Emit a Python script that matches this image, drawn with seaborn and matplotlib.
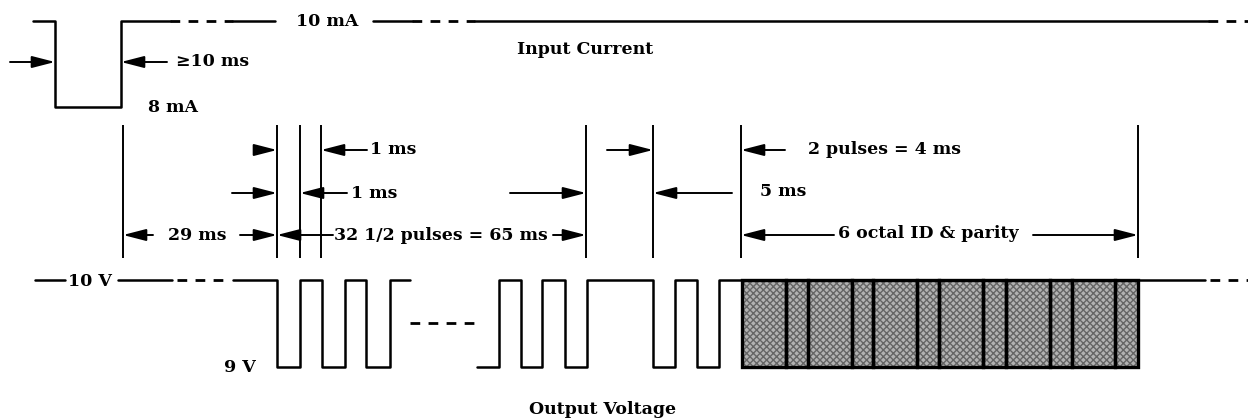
import matplotlib
matplotlib.use("Agg")
import matplotlib.pyplot as plt
import seaborn as sns
import numpy as np
import pandas as pd

# --- drawing space is the page itself (x right, y down), 1248 x 420 ---
W, H = 1248, 420

# input current levels (page y) and edges
cur_hi, cur_lo = 21, 107
cur_start, cur_edges, cur_end = 33, [55, 121], 170
cur_dash = [(170, 233), (412, 475), (1208, 1248)]
cur_solid = [(233, 275), (373, 412), (475, 1208)]

# output voltage levels and pulse edges
volt_hi, volt_lo, volt_mid = 280, 367, 323
burst1_start, burst1_edges, burst1_end = 233, [277, 300, 322, 345, 366, 390], 410
burst2_start, burst2_edges, burst2_end = 477, [499, 521, 542, 565, 587, 653, 675, 697, 719], 742
volt_solid = [(35, 65), (118, 172), (1138, 1205)]
volt_dash = [(177, 228), (1210, 1248)]
gap_dash = (410, 478)

# ID & parity cells (6 octal digits, wide + narrow)
cell_edges = [742, 786, 808, 852, 873, 917, 939, 983, 1006, 1050, 1072, 1115, 1138]

# timing markers
marker_x = [123, 277, 300, 321, 586, 653, 741, 1138]
marker_top, marker_bot = 125, 258

# dimension arrows: (row y, tail x, head x)
arrows = [
    (62, 10, 55), (62, 167, 121),
    (150, 254, 277), (150, 367, 321), (150, 607, 653), (150, 785, 741),
    (193, 232, 277), (193, 347, 300), (193, 510, 586), (193, 732, 653),
    (235, 153, 123), (235, 240, 277), (235, 333, 277), (235, 553, 586),
    (235, 834, 741), (235, 1033, 1138),
]

# labels: (text, x, y, ha)
labels = [
    ("10 mA", 327, 21, "center"),
    ("\u226510 ms", 176, 62, "left"),
    ("8 mA", 148, 107, "left"),
    ("Input Current", 585, 50, "center"),
    ("1 ms", 370, 150, "left"),
    ("1 ms", 351, 193, "left"),
    ("2 pulses = 4 ms", 808, 150, "left"),
    ("5 ms", 760, 192, "left"),
    ("29 ms", 168, 235, "left"),
    ("32 1/2 pulses = 65 ms", 334, 235, "left"),
    ("6 octal ID & parity", 838, 233, "left"),
    ("10 V", 90, 282, "center"),
    ("9 V", 240, 367, "center"),
    ("Output Voltage", 603, 410, "center"),
]


def step_trace(x0, edges, x1, first, second):
    xs, ys = [x0], [first]
    level, other = first, second
    for e in edges:
        xs += [e, e]
        ys += [level, other]
        level, other = other, level
    xs.append(x1)
    ys.append(level)
    return pd.DataFrame({"x": xs, "y": ys})


sns.set_style("white")
plt.rcParams["font.family"] = ["DejaVu Serif"]

fig = plt.figure(figsize=(W / 100, H / 100), dpi=100)
ax = fig.add_axes([0, 0, 1, 1])
ax.set_xlim(0, W)
ax.set_ylim(H, 0)
ax.axis("off")

wave = dict(color="black", lw=1.8, sort=False, estimator=None, legend=False, ax=ax)
dash = (0, (3.5, 3))

# input current
sns.lineplot(data=step_trace(cur_start, cur_edges, cur_end, cur_hi, cur_lo), x="x", y="y", **wave)
for a, b in cur_solid:
    sns.lineplot(x=[a, b], y=[cur_hi, cur_hi], **wave)
for a, b in cur_dash:
    ax.plot([a, b], [cur_hi, cur_hi], color="black", lw=2.0, ls=dash)

# output voltage
for a, b in volt_solid:
    sns.lineplot(x=[a, b], y=[volt_hi, volt_hi], **wave)
for a, b in volt_dash:
    ax.plot([a, b], [volt_hi, volt_hi], color="black", lw=2.0, ls=dash)
ax.plot(list(gap_dash), [volt_mid, volt_mid], color="black", lw=2.0, ls=dash)
sns.lineplot(data=step_trace(burst1_start, burst1_edges, burst1_end, volt_hi, volt_lo), x="x", y="y", **wave)
sns.lineplot(data=step_trace(burst2_start, burst2_edges, burst2_end, volt_lo, volt_hi), x="x", y="y", **wave)

# shaded ID cells (stippled grey)
lefts = np.array(cell_edges[:-1])
widths = np.diff(cell_edges)
ax.bar(lefts, volt_lo - volt_hi, width=widths, bottom=volt_hi, align="edge",
       color="#b2b2b2", hatch="xxxxx", edgecolor="#656565", lw=0)
ax.bar(lefts, volt_lo - volt_hi, width=widths, bottom=volt_hi, align="edge",
       fill=False, edgecolor="black", lw=2.4)

# timing markers
ax.vlines(marker_x, marker_top, marker_bot, color="black", lw=1.4)

# dimension arrows
for y, xt, xh in arrows:
    ax.annotate("", xy=(xh, y), xytext=(xt, y),
                arrowprops=dict(arrowstyle="-|>,head_length=0.7,head_width=0.18",
                                mutation_scale=20, color="black", lw=1.4,
                                shrinkA=0, shrinkB=0))

for txt, x, y, ha in labels:
    ax.text(x, y, txt, ha=ha, va="center", fontsize=12.5, fontweight="bold",
            color="black")

fig.savefig("out.png", dpi=100)
